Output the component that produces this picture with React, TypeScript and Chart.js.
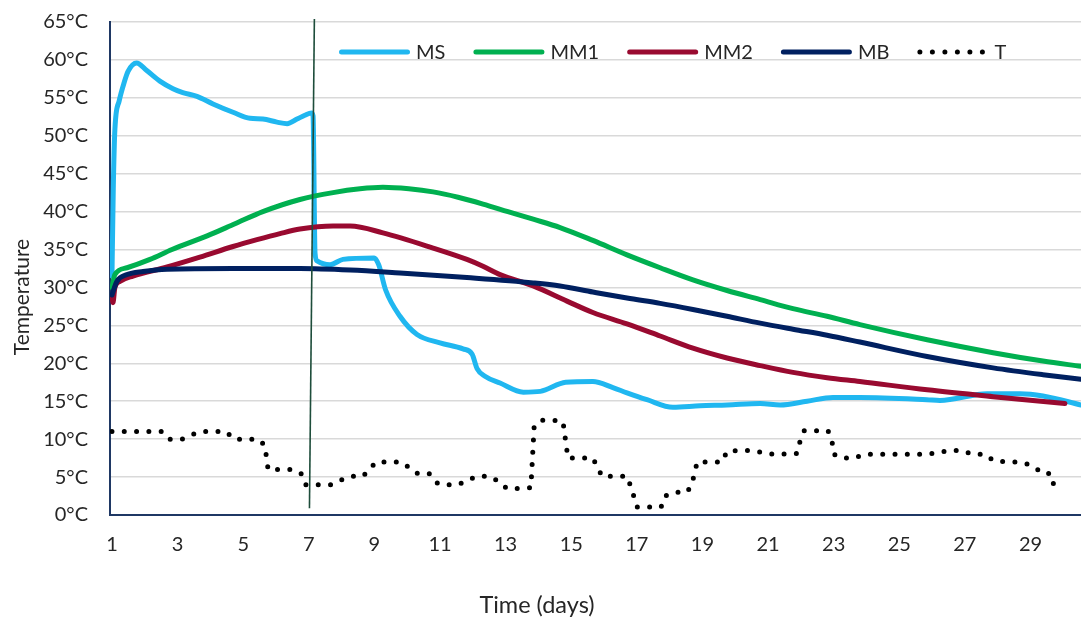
import React, { useEffect, useRef } from "react";
import { Chart, registerables } from "chart.js";

Chart.register(...registerables);

// ---------- data ----------
const xTickValues = [1, 3, 5, 7, 9, 11, 13, 15, 17, 19, 21, 23, 25, 27, 29];
const yMin = 0;
const yMax = 65;
const yStep = 5;

const msDays = [1.0, 1.04, 1.09, 1.22, 1.37, 1.49, 1.75, 2.06, 2.46, 2.86, 3.16, 3.59, 4.08, 4.69, 5.21, 5.6, 6.03, 6.34, 6.64, 6.88, 7.08, 7.13, 7.19, 7.25, 7.65, 8.04, 8.99, 9.13, 9.34, 9.78, 10.3, 11.0, 11.7, 11.98, 12.13, 12.37, 12.83, 13.54, 14.06, 14.83, 15.66, 16.27, 16.7, 17.31, 18.1, 18.93, 19.75, 20.76, 21.37, 22.19, 22.98, 23.8, 25.84, 26.24, 27.68, 28.68, 29.38, 30.54];
const msTemps = [31.5, 43.0, 50.9, 54.6, 57.0, 58.5, 59.6, 58.6, 57.2, 56.2, 55.7, 55.2, 54.2, 53.1, 52.3, 52.2, 51.8, 51.6, 52.2, 52.7, 53.0, 52.6, 34.5, 33.5, 33.0, 33.7, 33.9, 33.0, 29.7, 26.2, 23.8, 22.7, 21.9, 21.2, 19.3, 18.3, 17.4, 16.2, 16.3, 17.5, 17.6, 16.8, 16.1, 15.2, 14.2, 14.4, 14.5, 14.7, 14.5, 15.0, 15.5, 15.5, 15.2, 15.1, 16.0, 16.0, 15.7, 14.5];

const mm1Days = [1.0, 1.09, 1.46, 2.16, 2.83, 3.9, 4.75, 5.6, 6.73, 7.74, 8.56, 9.26, 10.05, 10.79, 11.55, 12.31, 13.07, 13.84, 14.66, 15.66, 16.7, 17.71, 18.71, 19.75, 20.76, 21.76, 22.8, 23.8, 25.85, 27.86, 29.38, 30.54];
const mm1Temps = [30.0, 31.7, 32.6, 33.7, 35.0, 36.8, 38.4, 40.0, 41.6, 42.5, 43.0, 43.2, 43.0, 42.6, 41.9, 41.0, 40.0, 39.0, 37.9, 36.2, 34.3, 32.6, 31.0, 29.6, 28.4, 27.2, 26.2, 25.1, 23.1, 21.4, 20.3, 19.6];

const mm2Days = [1.0, 1.03, 1.09, 1.24, 1.64, 2.68, 3.68, 4.69, 5.42, 6.12, 6.73, 7.74, 8.26, 9.26, 10.79, 11.82, 12.31, 12.83, 13.84, 14.87, 15.66, 16.7, 17.71, 18.71, 19.75, 20.76, 21.76, 22.8, 23.8, 25.85, 27.86, 30.05];
const mm2Temps = [29.0, 28.0, 30.0, 30.8, 31.5, 32.7, 34.0, 35.4, 36.3, 37.1, 37.7, 38.1, 38.1, 37.2, 35.2, 33.7, 32.8, 31.7, 30.2, 28.2, 26.7, 25.2, 23.6, 22.0, 20.7, 19.7, 18.8, 18.1, 17.6, 16.5, 15.6, 14.7];

const mbDays = [1.0, 1.15, 1.46, 1.95, 2.68, 4.69, 6.73, 8.26, 9.78, 11.82, 13.84, 14.66, 15.66, 16.7, 17.71, 18.71, 19.75, 20.76, 21.76, 22.8, 23.8, 25.85, 27.86, 29.38, 30.54];
const mbTemps = [29.0, 30.8, 31.7, 32.1, 32.4, 32.5, 32.5, 32.3, 31.9, 31.3, 30.6, 30.2, 29.4, 28.6, 27.9, 27.1, 26.2, 25.3, 24.5, 23.7, 22.8, 20.9, 19.4, 18.5, 17.9];

const tDays = [1.0, 2.52, 2.74, 3.13, 3.44, 3.74, 4.48, 4.72, 5.45, 5.66, 5.76, 6.52, 6.79, 6.91, 7.68, 7.98, 8.29, 8.65, 9.05, 9.81, 10.05, 10.3, 10.66, 10.88, 11.0, 11.55, 11.85, 12.13, 12.52, 12.8, 13.04, 13.41, 13.77, 13.87, 14.08, 14.45, 14.75, 14.9, 15.66, 15.94, 16.7, 16.82, 17.01, 17.74, 17.86, 18.13, 18.53, 18.68, 18.84, 19.6, 19.75, 20.09, 20.48, 21.18, 21.88, 21.98, 22.1, 22.83, 22.95, 23.01, 23.26, 23.62, 23.96, 25.82, 26.18, 26.52, 26.91, 27.25, 27.62, 27.86, 28.23, 28.59, 28.93, 29.2, 29.54, 29.63, 29.96];
const tTemps = [11.0, 11.0, 10.0, 10.0, 10.6, 11.0, 11.0, 10.0, 10.0, 9.2, 6.0, 6.0, 5.4, 4.0, 4.0, 4.6, 5.1, 5.1, 7.0, 7.0, 6.3, 5.5, 5.5, 4.3, 4.0, 4.0, 4.6, 5.1, 5.1, 4.4, 3.5, 3.5, 3.6, 11.7, 12.5, 12.5, 12.3, 7.5, 7.5, 5.1, 5.1, 3.7, 1.05, 1.05, 2.5, 3.0, 3.0, 4.1, 7.0, 7.0, 8.4, 8.5, 8.5, 8.0, 8.1, 9.8, 11.1, 11.1, 9.7, 8.0, 7.5, 7.5, 8.0, 8.0, 8.2, 8.5, 8.5, 8.0, 8.0, 7.2, 7.0, 7.0, 6.7, 6.0, 5.7, 4.2, 4.0];

const markerDays = [7.02, 7.17];
const markerTemps = [0.9, 65.4];

const seriesLabels = ["MS", "MM1", "MM2", "MB", "T"];
const xTitle = "Time (days)";
const yTitle = "Temperature";

// ---------- styles ----------
const FONT = "Lato, 'Noto Sans', sans-serif";
const TEXT = "#262626";
const NAVY_AXIS = "#1F3864";
const COLORS = ["#20B7F0", "#00B050", "#990A30", "#002060", "#000000"];

const pts = (xs: number[], ys: number[]) => xs.map((x, i) => ({ x, y: ys[i] }));

const overlayPlugin = {
  id: "overlay",
  afterDraw(chart: any) {
    const ctx = chart.ctx as CanvasRenderingContext2D;
    ctx.save();
    // legend
    ctx.font = `20px ${FONT}`;
    ctx.textBaseline = "middle";
    ctx.textAlign = "left";
    let x = 339;
    const y = 52;
    const lineLen = 71;
    seriesLabels.forEach((label, i) => {
      const color = COLORS[i];
      if (i === 4) {
        ctx.fillStyle = color;
        for (let k = 0; k < 6; k++) {
          ctx.beginPath();
          ctx.arc(x + 2.5 + k * 12.5, y, 2.5, 0, Math.PI * 2);
          ctx.fill();
        }
      } else {
        ctx.strokeStyle = color;
        ctx.lineWidth = 5;
        ctx.lineCap = "round";
        ctx.beginPath();
        ctx.moveTo(x + 2.5, y);
        ctx.lineTo(x + lineLen - 2.5, y);
        ctx.stroke();
      }
      ctx.fillStyle = TEXT;
      const tx = x + lineLen + 6;
      ctx.fillText(label, tx, y + 1);
      x = tx + ctx.measureText(label).width + 28;
    });
    // axis titles
    ctx.fillStyle = TEXT;
    ctx.textAlign = "center";
    ctx.textBaseline = "middle";
    ctx.font = `23.5px ${FONT}`;
    ctx.fillText(xTitle, 537, 605);
    ctx.font = `21px ${FONT}`;
    ctx.translate(22, 297);
    ctx.rotate(-Math.PI / 2);
    ctx.fillText(yTitle, 0, 0);
    ctx.restore();
  },
};

export default function App() {
  const canvasRef = useRef<HTMLCanvasElement | null>(null);

  useEffect(() => {
    document.body.style.margin = "0";
    const canvas = canvasRef.current;
    if (!canvas) return;
    const lineDs = (i: number, xs: number[], ys: number[], order: number) => ({
      label: seriesLabels[i],
      data: pts(xs, ys),
      borderColor: COLORS[i],
      backgroundColor: COLORS[i],
      borderWidth: 5,
      pointRadius: 0,
      borderCapStyle: "round" as const,
      borderJoinStyle: "round" as const,
      cubicInterpolationMode: "monotone" as const,
      tension: 0.4,
      order,
    });
    const chart = new Chart(canvas, {
      type: "line",
      data: {
        datasets: [
          lineDs(0, msDays, msTemps, 6),
          lineDs(1, mm1Days, mm1Temps, 5),
          lineDs(2, mm2Days, mm2Temps, 4),
          lineDs(3, mbDays, mbTemps, 3),
          {
            label: seriesLabels[4],
            data: pts(tDays, tTemps),
            borderColor: COLORS[4],
            backgroundColor: COLORS[4],
            borderWidth: 5,
            borderDash: [0, 12.3],
            borderCapStyle: "round" as const,
            pointRadius: 0,
            tension: 0,
            order: 2,
          },
          {
            label: "marker",
            data: pts(markerDays, markerTemps),
            borderColor: "#1E4D3B",
            borderWidth: 1.6,
            pointRadius: 0,
            tension: 0,
            clip: false as any,
            order: 1,
          },
        ],
      },
      options: {
        animation: false,
        responsive: false,
        maintainAspectRatio: false,
        layout: { padding: { top: 22, left: 0, right: 0, bottom: 0 } },
        plugins: {
          legend: { display: false },
          tooltip: { enabled: false },
          title: { display: false },
        },
        scales: {
          x: {
            type: "linear",
            min: 0.94,
            max: 30.54,
            afterBuildTicks: (s: any) => {
              s.ticks = xTickValues.map((v) => ({ value: v }));
            },
            afterFit: (s: any) => {
              s.height = 107;
              s.paddingLeft = 0;
              s.paddingRight = 0;
            },
            ticks: {
              autoSkip: false,
              maxRotation: 0,
              padding: 18,
              color: TEXT,
              font: { family: FONT, size: 20 },
              callback: (v: any) => String(v),
            },
            grid: { display: false, drawTicks: false },
            border: { display: true, color: NAVY_AXIS, width: 2 },
          },
          y: {
            min: yMin,
            max: yMax,
            afterFit: (s: any) => {
              s.width = 110;
              s.paddingTop = 0;
              s.paddingBottom = 0;
            },
            ticks: {
              stepSize: yStep,
              padding: 22,
              color: TEXT,
              font: { family: FONT, size: 20 },
              callback: (v: any) => `${v}°C`,
            },
            grid: {
              drawTicks: false,
              lineWidth: 1.5,
              color: (c: any) => (c.tick && c.tick.value === 0 ? "rgba(0,0,0,0)" : "#D9D9D9"),
            },
            border: { display: true, color: NAVY_AXIS, width: 2 },
          },
        },
      },
      plugins: [overlayPlugin],
    });
    return () => chart.destroy();
  }, []);

  return (
    <div style={{ position: "absolute", left: 0, top: 0, width: 1081, height: 622, background: "#fff" }}>
      <canvas ref={canvasRef} width={1081} height={622} style={{ width: 1081, height: 622 }} />
    </div>
  );
}
